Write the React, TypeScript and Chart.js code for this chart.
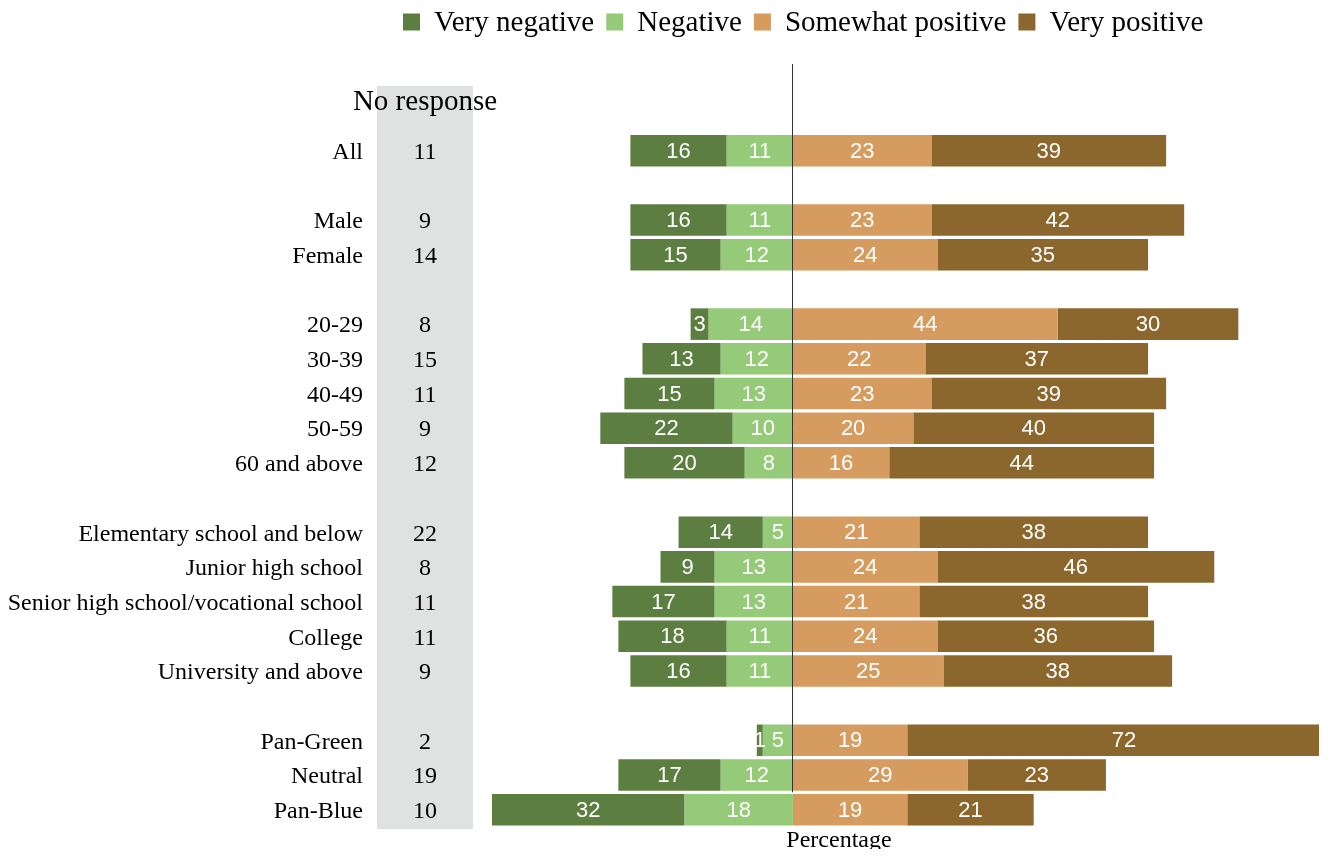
import React, { useEffect, useRef } from 'react';
import { Chart, registerables } from 'chart.js';

Chart.register(...registerables);

// ---- data ----
const categories = [
  '', '',
  'All', '',
  'Male', 'Female', '',
  '20-29', '30-39', '40-49', '50-59', '60 and above', '',
  'Elementary school and below', 'Junior high school', 'Senior high school/vocational school', 'College', 'University and above', '',
  'Pan-Green', 'Neutral', 'Pan-Blue',
];
const noResponse = [null, null, 11, null, 9, 14, null, 8, 15, 11, 9, 12, null, 22, 8, 11, 11, 9, null, 2, 19, 10];
const veryNegative = [null, null, 16, null, 16, 15, null, 3, 13, 15, 22, 20, null, 14, 9, 17, 18, 16, null, 1, 17, 32];
const negative = [null, null, 11, null, 11, 12, null, 14, 12, 13, 10, 8, null, 5, 13, 13, 11, 11, null, 5, 12, 18];
const somewhatPositive = [null, null, 23, null, 23, 24, null, 44, 22, 23, 20, 16, null, 21, 24, 21, 24, 25, null, 19, 29, 19];
const veryPositive = [null, null, 39, null, 42, 35, null, 30, 37, 39, 40, 44, null, 38, 46, 38, 36, 38, null, 72, 23, 21];

const legendNames = ['Very negative', 'Negative', 'Somewhat positive', 'Very positive'];
const legendColors = ['#5c7f41', '#94ca78', '#d69b5f', '#8b672d'];
const noResponseTitle = 'No response';
const xAxisTitle = 'Percentage';

const SERIF = '"Liberation Serif", "Times New Roman", serif';
const SANS = '"Liberation Sans", Arial, sans-serif';

const neg = (arr: (number | null)[]) => arr.map((v) => (v == null ? null : -v));

const overlay = {
  id: 'overlay',
  beforeDatasetsDraw(chart: any) {
    const { ctx, chartArea, scales } = chart;
    const y = scales.y;
    ctx.save();
    // grey "No response" column
    const bandLeft = chartArea.left - 111;
    const bandWidth = 96;
    const bandCenter = bandLeft + bandWidth / 2;
    const bandTop = y.getPixelForValue(0.13);
    ctx.fillStyle = '#e0e1e1';
    ctx.fillRect(bandLeft, bandTop, bandWidth, chartArea.bottom + 2 - bandTop);
    ctx.fillStyle = '#000';
    ctx.textAlign = 'center';
    ctx.textBaseline = 'middle';
    ctx.font = `29px ${SERIF}`;
    ctx.fillText(noResponseTitle, bandCenter, y.getPixelForValue(0.6));
    ctx.font = `24px ${SERIF}`;
    noResponse.forEach((v, i) => {
      if (v == null) return;
      ctx.fillText(String(v), bandCenter, y.getPixelForValue(i) + 2);
    });
    ctx.restore();
  },
  afterDatasetsDraw(chart: any) {
    const { ctx, chartArea, scales } = chart;
    const x = scales.x;
    const y = scales.y;
    ctx.save();
    // zero line
    const x0 = Math.round(x.getPixelForValue(0)) - 0.5;
    ctx.strokeStyle = '#333';
    ctx.lineWidth = 1;
    ctx.beginPath();
    ctx.moveTo(x0, chartArea.top);
    ctx.lineTo(x0, y.getPixelForValue(20.5));
    ctx.stroke();

    // bar value labels
    ctx.fillStyle = '#fff';
    ctx.font = `22px ${SANS}`;
    ctx.textAlign = 'center';
    ctx.textBaseline = 'middle';
    chart.data.datasets.forEach((ds: any, di: number) => {
      const meta = chart.getDatasetMeta(di);
      meta.data.forEach((el: any, i: number) => {
        const raw = ds.data[i];
        if (raw == null) return;
        const p = el.getProps(['x', 'base', 'y'], true);
        ctx.fillText(String(Math.abs(raw)), (p.x + p.base) / 2, p.y + 1);
      });
    });

    // x axis title
    ctx.fillStyle = '#000';
    ctx.font = `24px ${SERIF}`;
    ctx.fillText(xAxisTitle, chartArea.left + 351, chartArea.bottom + 14);

    // legend
    ctx.font = `29px ${SERIF}`;
    ctx.textAlign = 'left';
    let lx = 395;
    const ly = 14;
    legendNames.forEach((name, i) => {
      ctx.fillStyle = legendColors[i];
      ctx.fillRect(lx, ly - 8.5, 17, 17);
      lx += 17 + 14;
      ctx.fillStyle = '#000';
      ctx.fillText(name, lx, ly + 1);
      lx += ctx.measureText(name).width + 12;
    });
    ctx.restore();
  },
};

export default function App() {
  const ref = useRef<HTMLCanvasElement>(null);
  useEffect(() => {
    const chart = new Chart(ref.current as HTMLCanvasElement, {
      type: 'bar',
      data: {
        labels: categories,
        datasets: [
          { label: legendNames[1], data: neg(negative), backgroundColor: legendColors[1] },
          { label: legendNames[0], data: neg(veryNegative), backgroundColor: legendColors[0] },
          { label: legendNames[2], data: somewhatPositive, backgroundColor: legendColors[2] },
          { label: legendNames[3], data: veryPositive, backgroundColor: legendColors[3] },
        ] as any,
      },
      options: {
        indexAxis: 'y',
        animation: false,
        responsive: true,
        maintainAspectRatio: false,
        datasets: { bar: { barPercentage: 0.91, categoryPercentage: 1, borderWidth: 0 } } as any,
        layout: { padding: { top: 56, right: 4, bottom: 30, left: 0 } },
        plugins: { legend: { display: false }, tooltip: { enabled: false }, title: { display: false } },
        scales: {
          x: {
            stacked: true,
            min: -50.66,
            max: 87.4,
            display: false,
            grid: { display: false },
          },
          y: {
            stacked: true,
            grid: { display: false, drawTicks: false },
            border: { display: false },
            ticks: {
              autoSkip: false,
              padding: 125,
              labelOffset: 2,
              color: '#000',
              font: { family: SERIF, size: 24 },
            },
            afterFit: (scale: any) => {
              scale.width = 480;
              scale.paddingTop = 0;
              scale.paddingBottom = 0;
            },
          },
        },
      } as any,
      plugins: [overlay],
    });
    return () => chart.destroy();
  }, []);
  return (
    <div style={{ position: 'relative', width: 1315, height: 849, marginBottom: -8 }}>
      <canvas ref={ref} />
    </div>
  );
}
